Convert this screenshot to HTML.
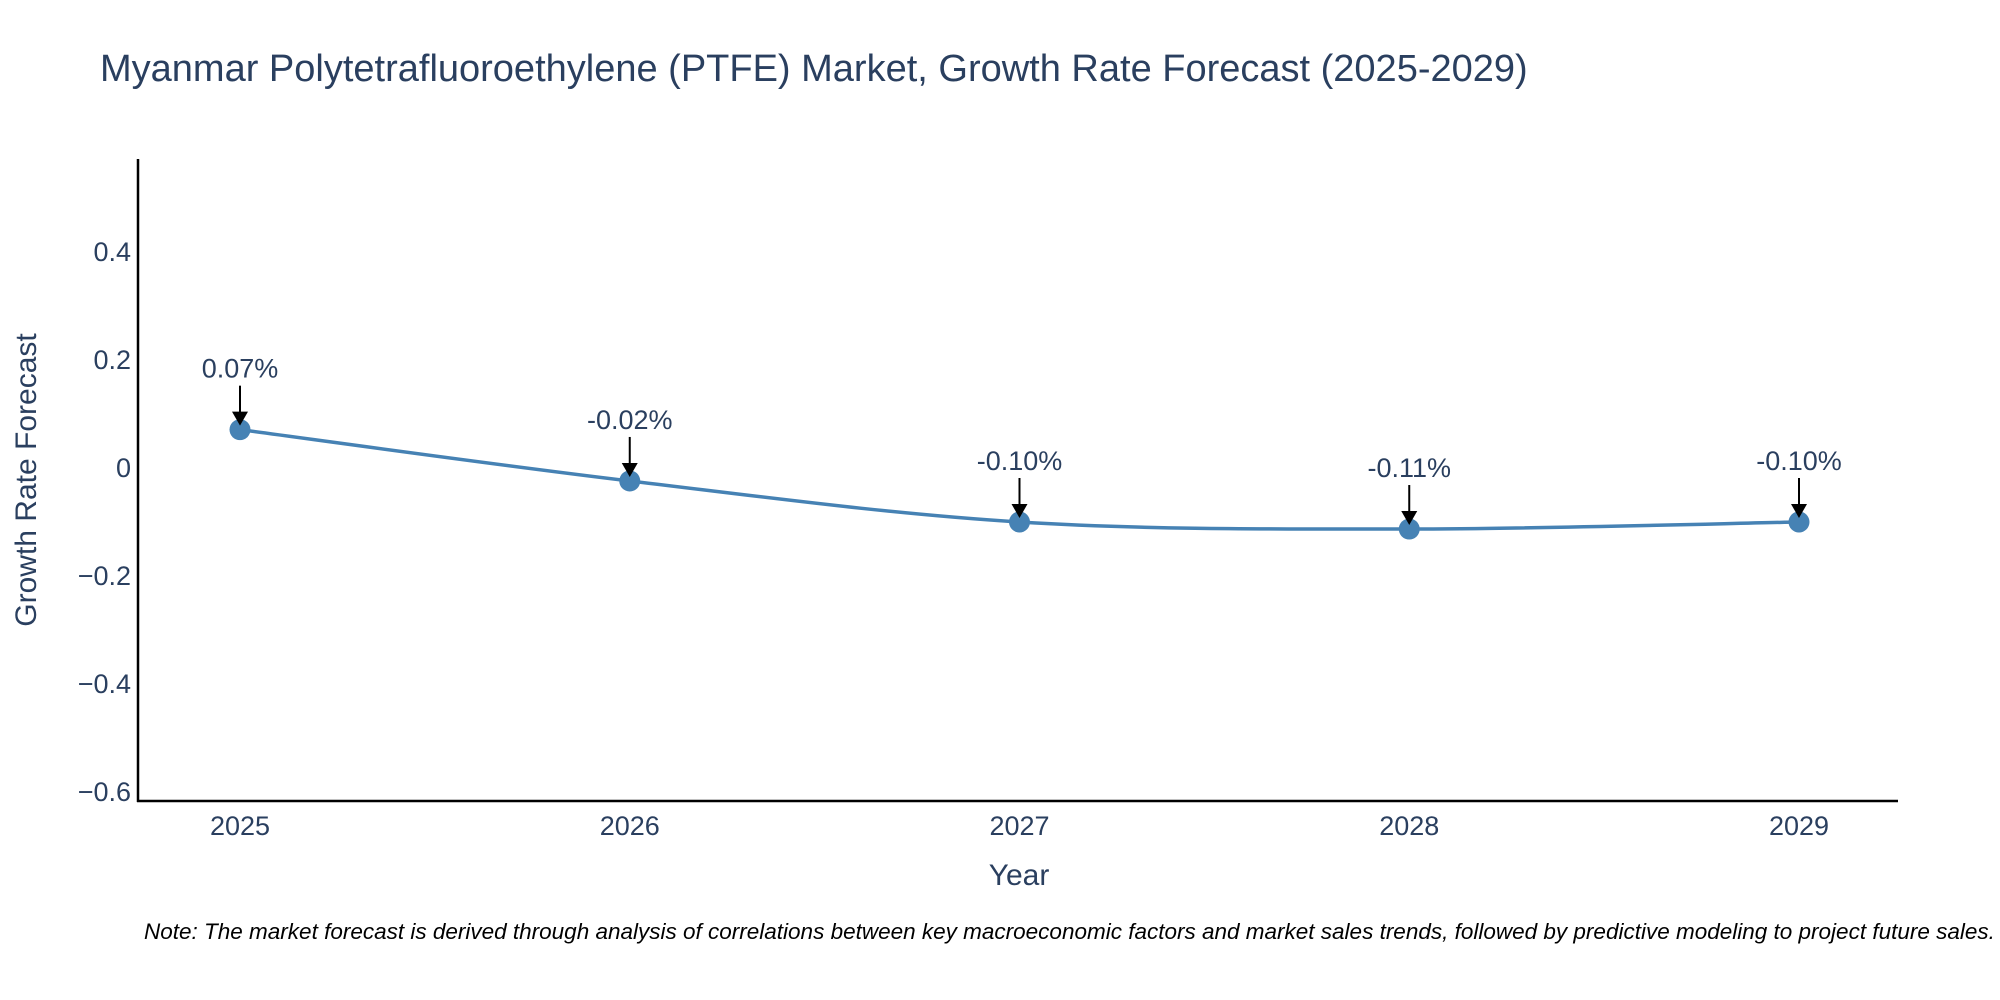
<!DOCTYPE html>
<html><head><meta charset="utf-8"><style>
body{margin:0;background:#fff;overflow:hidden;}
svg{display:block;font-family:"Liberation Sans","DejaVu Sans",sans-serif;}
</style></head><body>
<svg id="chart" width="2000" height="1000" viewBox="0 0 2000 1000">
<text x="100" y="81" font-size="38" fill="#2a3f5f">Myanmar Polytetrafluoroethylene (PTFE) Market, Growth Rate Forecast (2025-2029)</text>
<g id="yticks"></g>
<g id="xticks"></g>
<line x1="138" y1="159" x2="138" y2="802" stroke="#000" stroke-width="2.5"/>
<line x1="137" y1="801" x2="1898" y2="801" stroke="#000" stroke-width="2.5"/>
<text transform="translate(36,480) rotate(-90)" text-anchor="middle" font-size="30" fill="#2a3f5f">Growth Rate Forecast</text>
<text x="1019" y="885" text-anchor="middle" font-size="30" fill="#2a3f5f">Year</text>
<path id="line" fill="none" stroke="#4682b4" stroke-width="3.5"/>
<g id="points"></g>
<g id="annots"></g>
<text x="144" y="939" font-size="22.5" font-style="italic" fill="#000">Note: The market forecast is derived through analysis of correlations between key macroeconomic factors and market sales trends, followed by predictive modeling to project future sales.</text>
</svg>
<script>
const years = [2025, 2026, 2027, 2028, 2029];
const values = [0.071, -0.024, -0.10, -0.113, -0.10];
const labels = ["0.07%", "-0.02%", "-0.10%", "-0.11%", "-0.10%"];
const yTickValues = [0.4, 0.2, 0, -0.2, -0.4, -0.6];
const yTickLabels = ["0.4", "0.2", "0", "\u22120.2", "\u22120.4", "\u22120.6"];
const NS = "http://www.w3.org/2000/svg";
const xScale = v => 240 + (v - 2025) * 389.75;
const yScale = v => 468 - v * 540;
function mk(tag, attrs, parent) { const e = document.createElementNS(NS, tag); for (const k in attrs) e.setAttribute(k, attrs[k]); parent.appendChild(e); return e; }
const yt = document.getElementById('yticks');
yTickValues.forEach((v, i) => {
  const t = mk('text', {x: 131, y: yScale(v) + 9, 'text-anchor': 'end', 'font-size': 27, fill: '#2a3f5f'}, yt);
  
  
  t.textContent = yTickLabels[i];
});
const xt = document.getElementById('xticks');
years.forEach(y => {
  const t = mk('text', {x: xScale(y), y: 835, 'text-anchor': 'middle', 'font-size': 27, fill: '#2a3f5f'}, xt);
  
  
  t.textContent = y;
});
const pts = years.map((y, i) => [xScale(y), yScale(values[i])]);
let d = `M${pts[0][0]},${pts[0][1]}`;
for (let i = 0; i < pts.length - 1; i++) {
  const p0 = pts[Math.max(0, i - 1)], p1 = pts[i], p2 = pts[i + 1], p3 = pts[Math.min(pts.length - 1, i + 2)];
  const c1 = [p1[0] + (p2[0] - p0[0]) / 6, p1[1] + (p2[1] - p0[1]) / 6];
  const c2 = [p2[0] - (p3[0] - p1[0]) / 6, p2[1] - (p3[1] - p1[1]) / 6];
  d += ` C${c1[0]},${c1[1]} ${c2[0]},${c2[1]} ${p2[0]},${p2[1]}`;
}
document.getElementById('line').setAttribute('d', d);
const pg = document.getElementById('points'), ag = document.getElementById('annots');
pts.forEach((p, i) => {
  const c = mk('circle', {cx: p[0], cy: p[1], r: 10.5, fill: '#4682b4'}, pg);
  
  
  const l = mk('line', {x1: p[0], y1: p[1] - 44, x2: p[0], y2: p[1] - 14, stroke: '#000', 'stroke-width': 2}, ag);
  
  
  const h = mk('polygon', {points: `${p[0]-8},${p[1]-18} ${p[0]+8},${p[1]-18} ${p[0]},${p[1]-4}`, fill: '#000'}, ag);
  
  
  const t = mk('text', {x: p[0], y: p[1] - 52, 'text-anchor': 'middle', 'font-size': 27, fill: '#2a3f5f'}, ag);
  
  
  t.textContent = labels[i];
});
</script>
</body></html>
